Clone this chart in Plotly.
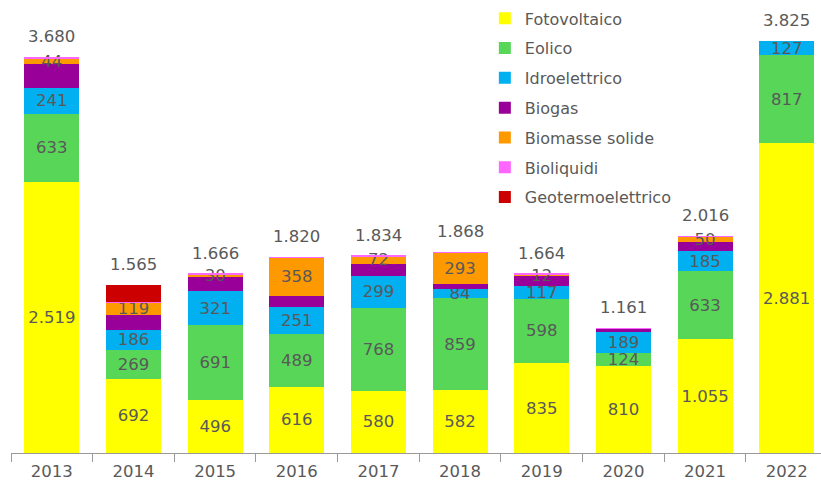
import plotly.graph_objects as go

years = ["2013", "2014", "2015", "2016", "2017", "2018", "2019", "2020", "2021", "2022"]

fotovoltaico = [2519, 692, 496, 616, 580, 582, 835, 810, 1055, 2881]
eolico = [633, 269, 691, 489, 768, 859, 598, 124, 633, 817]
idroelettrico = [241, 186, 321, 251, 299, 84, 117, 189, 185, 127]
biogas = [223, 134, 124, 102, 111, 47, 99, 36, 90, 0]
biomasse = [44, 119, 30, 358, 72, 293, 12, 0, 50, 0]
bioliquidi = [20, 5, 4, 4, 4, 3, 3, 2, 3, 0]
geotermo = [0, 160, 0, 0, 0, 0, 0, 0, 0, 0]
totals = [3680, 1565, 1666, 1820, 1834, 1868, 1664, 1161, 2016, 3825]

series = [
    ("Fotovoltaico", fotovoltaico, "#FFFF00", True),
    ("Eolico", eolico, "#58D658", True),
    ("Idroelettrico", idroelettrico, "#00B0F0", True),
    ("Biogas", biogas, "#990099", False),
    ("Biomasse solide", biomasse, "#FF9900", True),
    ("Bioliquidi", bioliquidi, "#FF66FF", False),
    ("Geotermoelettrico", geotermo, "#CC0000", False),
]

def fmt(v):
    return f"{v:,}".replace(",", ".")

FONT = "DejaVu Sans"
GREY = "#595959"

fig = go.Figure()
for i, (name, vals, color, labeled) in enumerate(series):
    txt = [fmt(v) if (labeled and v > 0) else "" for v in vals]
    fig.add_trace(go.Bar(
        name=name, x=years, y=vals, marker=dict(color=color, line=dict(width=0)),
        text=txt, textposition="inside", insidetextanchor="middle",
        constraintext="none", textangle=0,
        textfont=dict(family=FONT, size=16.5, color=GREY),
        legendgroup=f"g{i}", hoverinfo="skip",
    ))

for idx, tot in enumerate(totals):
    fig.add_annotation(x=idx, y=tot, xref="x", yref="y", text=fmt(tot),
                       showarrow=False, yanchor="bottom", yshift=9,
                       font=dict(family=FONT, size=16.5, color=GREY))

fig.update_layout(
    width=821, height=487,
    margin=dict(l=11, r=0, t=0, b=34, autoexpand=False),
    barmode="stack", bargap=0.326,
    plot_bgcolor="white", paper_bgcolor="white",
    font=dict(family=FONT, size=16, color=GREY),
    legend=dict(x=0.585, y=0.997, xanchor="left", yanchor="top",
                traceorder="grouped", tracegroupgap=6,
                font=dict(family=FONT, size=16, color=GREY),
                bgcolor="rgba(0,0,0,0)"),
    xaxis=dict(type="category", range=[-0.5, 9.42], showline=True,
               automargin=False,
               linecolor="#9A9A9A", linewidth=1, ticks="outside",
               tickson="boundaries", ticklen=8, tickcolor="#9A9A9A",
               ticklabelstandoff=3,
               showgrid=False, tickfont=dict(family=FONT, size=16.5, color=GREY)),
    yaxis=dict(range=[0, 4210], visible=False, showgrid=False, automargin=False),
)

fig.write_html("out.html", config={"displayModeBar": False},
               post_script="document.body.style.margin='0px';")
